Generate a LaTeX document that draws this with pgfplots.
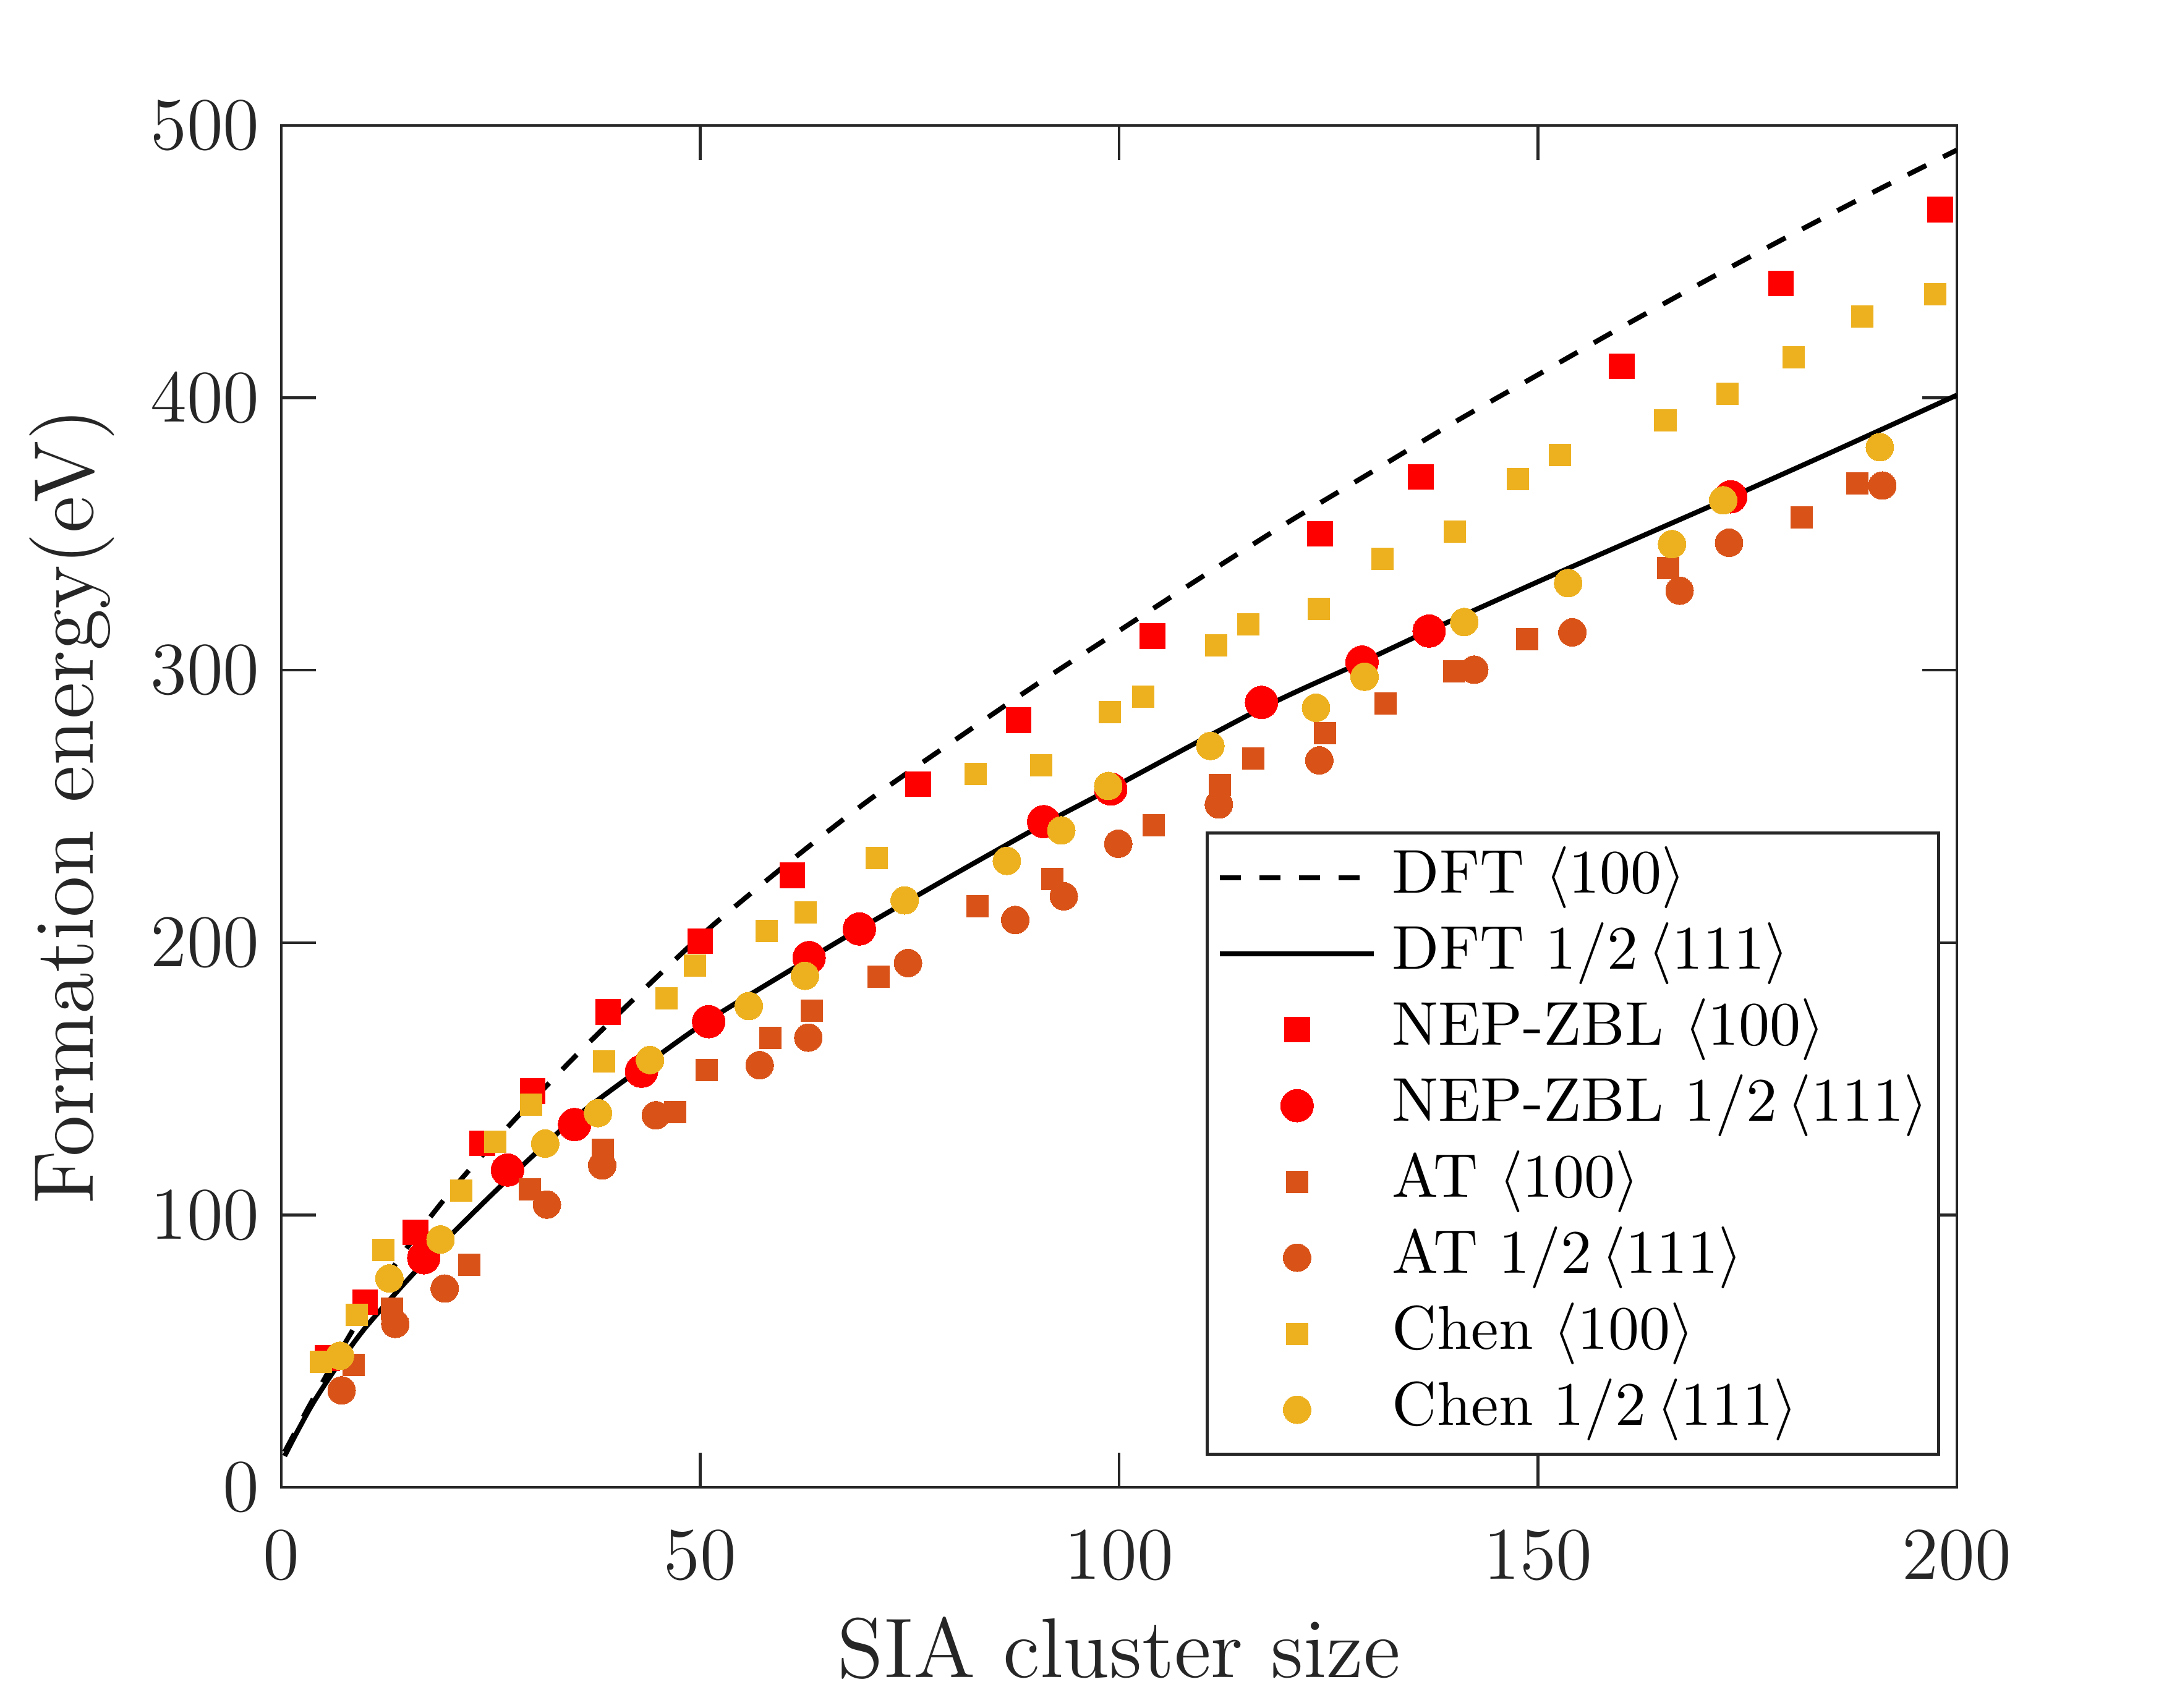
\documentclass[border=0pt]{standalone}
\usepackage{pgfplots}
\pgfplotsset{compat=1.18}
\definecolor{axgray}{HTML}{262626}
\definecolor{matorange}{HTML}{D95319}
\definecolor{matyellow}{HTML}{EDB120}
\pgfplotsset{
  mklegend/.style={legend image code/.code={\draw[mark repeat=2,mark phase=2,##1] plot coordinates {(0pt,0pt) (12.45pt,0pt) (24.9pt,0pt)};}},
}
\begin{document}
\begin{tikzpicture}
\begin{axis}[name=ax, width=271pt, height=220.3pt, scale only axis,
  xmin=0, xmax=200, ymin=0, ymax=500,
  xtick={0,50,100,150,200}, ytick={0,100,200,300,400,500},
  tick align=inside, major tick length=5.6pt,
  axis line style={axgray, line width=0.45pt},
  tick style={axgray, line width=0.45pt},
  tick label style={font=\fontsize{12.3}{14}\selectfont, text=axgray},
  xticklabel style={yshift=-3.6pt},
  label style={font=\fontsize{13.7}{16}\selectfont, text=axgray},
  xlabel={SIA cluster size},
  ylabel={Formation energy(eV)},
  xlabel style={at={([yshift=-30.7pt]axis description cs:0.5,0)}, anchor=base},
  ylabel style={at={([xshift=-30.4pt]axis description cs:0,0.5)}, anchor=base},
  legend style={at={(1,0)}, anchor=south east, xshift=-2.7pt, yshift=5.1pt,
    draw=axgray, line width=0.5pt, fill=white, inner xsep=1.7pt, inner ysep=2.2pt,
    row sep=2.3pt, column sep=2.55pt, font=\fontsize{10}{12}\selectfont,
    nodes={inner sep=0pt, text height=7.5pt, text depth=2.5pt}},
  legend cell align=left,
  legend image code/.code={\draw[#1] (0pt,0pt) -- (24.9pt,0pt);},
]
\addplot[black, line width=0.8pt, dash pattern=on 3.35pt off 3.05pt, smooth] coordinates {
(0.4,13) (3,28) (5,39) (8,55) (11,70) (15,88) (19,104) (22,115) (28,135.5) (35,158) (43,182) (51,205) (61,230.5) (70,252) (80,273.5) (90,294.5) (100,314.5) (110,334.5) (120,354) (130,372.5) (140,391) (150,408.5) (160,426) (170,443) (180,459.5) (190,475.5) (200,491)};
\addlegendentry{DFT $\langle 100\rangle$}
\addplot[black, line width=0.8pt, smooth] coordinates {
(0.4,11.5) (2,21) (4,32) (7,46) (10,58.5) (14,72.5) (17,82.5) (21,95) (27,113) (35,135.5) (43,154) (51,171.5) (63,194) (69,205) (80,224.5) (91,243.5) (99,256.5) (117,286) (129,303) (137,314.5) (150,332.5) (160,346) (173,363.5) (185,380) (200,401)};
\addlegendentry{DFT $1/2\,\langle 111\rangle$}
\addplot[only marks, mark=square*, mark size=2.03pt, color=red, mark options={fill=red, line width=0pt}, mklegend] coordinates {
(5.5,47.5) (10,68) (16,93.6) (24,126.3) (30,145.5) (39,174.6) (50,200.5) (61,224.7) (76,258.2) (88,281.6) (104,312.5) (124,350.1) (136,371) (160,411.6) (179,442) (198,469.2)};
\addlegendentry{NEP-ZBL $\langle 100\rangle$}
\addplot[only marks, mark=*, mark size=2.65pt, color=red, mark options={fill=red, line width=0pt}, mklegend] coordinates {
(17,84.3) (27,116.5) (35,133.2) (43,152.8) (51,171) (63,194.5) (69,205) (91,244.4) (99,256.4) (117,288.2) (129,303) (137,314.4) (173,363.7)};
\addlegendentry{NEP-ZBL $1/2\,\langle 111\rangle$}
\addplot[only marks, mark=square*, mark size=1.75pt, color=matorange, mark options={fill=matorange, line width=0pt}, mklegend] coordinates {
(8.6,45) (13.2,65.7) (22.4,81.7) (29.7,109.3) (38.4,124) (47,137.8) (50.8,153.1) (58.4,165.1) (63.3,175.1) (71.3,187.5) (83.1,213.3) (92,223.4) (104.1,243.1) (112,257.8) (116,267.5) (124.6,277) (131.8,287.8) (140,299.7) (148.7,311.5) (165.5,337.6) (181.5,356.2) (188.1,368.7)};
\addlegendentry{AT $\langle 100\rangle$}
\addplot[only marks, mark=*, mark size=2.25pt, color=matorange, mark options={fill=matorange, line width=0pt}, mklegend] coordinates {
(7.2,35.6) (13.6,60) (19.5,73) (31.7,103.8) (38.3,118.2) (44.7,136.6) (57.1,155) (62.9,165.1) (74.8,192.5) (87.6,208.3) (93.4,217) (99.9,236.3) (111.9,250.7) (123.9,266.9) (142.4,300.2) (154.1,313.9) (166.9,329.2) (172.8,346.8) (191.1,367.8)};
\addlegendentry{AT $1/2\,\langle 111\rangle$}
\addplot[only marks, mark=square*, mark size=1.75pt, color=matyellow, mark options={fill=matyellow, line width=0pt}, mklegend] coordinates {
(4.7,46) (9,63.3) (12.2,87.2) (21.5,109) (25.5,126.9) (29.8,140.4) (38.5,156.3) (46,179.5) (49.4,191.6) (57.9,204.3) (62.6,211.1) (71.1,231.1) (82.9,262) (90.7,265.1) (98.9,284.6) (102.9,290.4) (111.6,309.2) (115.4,316.9) (123.8,322.6) (131.4,341) (140.1,350.8) (147.6,370.1) (152.6,379.1) (165.2,391.7) (172.6,401.4) (180.5,414.8) (188.7,429.9) (197.4,438.1)};
\addlegendentry{Chen $\langle 100\rangle$}
\addplot[only marks, mark=*, mark size=2.25pt, color=matyellow, mark options={fill=matyellow, line width=0pt}, mklegend] coordinates {
(7,48.3) (12.9,76.7) (19,91) (31.5,126.2) (37.8,137.4) (44,156.9) (55.8,176.7) (62.5,187.8) (74.4,215.5) (86.6,230) (93.1,241.2) (98.7,257.5) (110.9,272.2) (123.5,286.2) (129.3,297.6) (141.2,317.7) (153.6,332) (166,346.3) (172.1,362.4) (190.8,381.9)};
\addlegendentry{Chen $1/2\,\langle 111\rangle$}
\end{axis}
\pgfresetboundingbox
\useasboundingbox ([shift={(-45.5pt,-35.6pt)}]ax.south west) rectangle ([shift={(33.5pt,20.3pt)}]ax.north east);
\end{tikzpicture}
\end{document}
